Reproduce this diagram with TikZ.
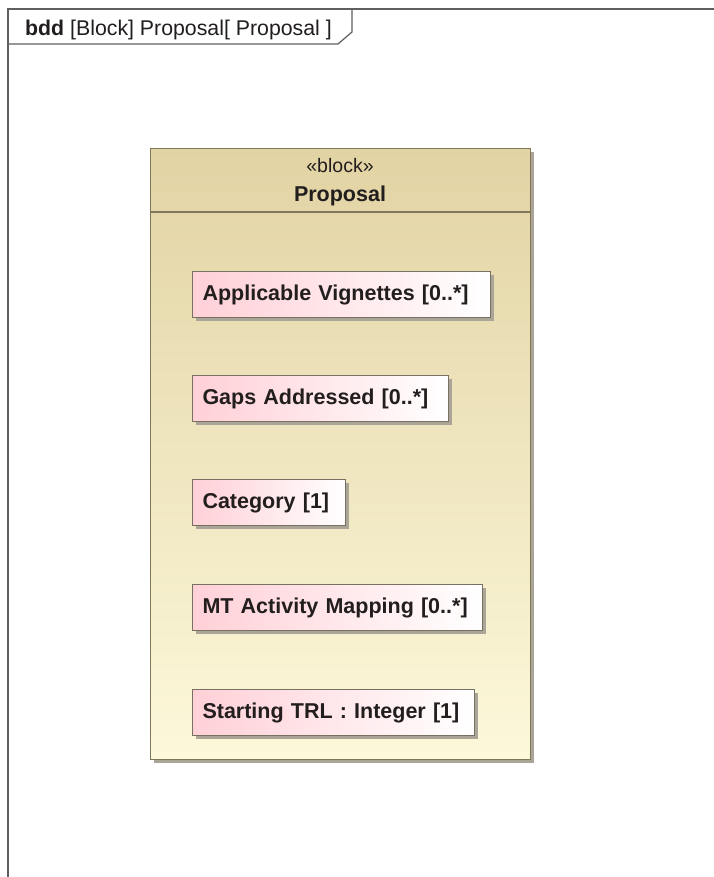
\documentclass[tikz,border=0pt]{standalone}
\usepackage{fontspec}
\setmainfont{Liberation Sans}
\begin{document}
\definecolor{frameGray}{RGB}{95,95,95}
\definecolor{textDark}{RGB}{34,30,30}
\definecolor{blockTop}{RGB}{226,211,164}
\definecolor{blockBottom}{RGB}{252,248,218}
\definecolor{blockBorder}{RGB}{128,118,88}
\definecolor{partPink}{RGB}{255,208,215}
\definecolor{partBorder}{RGB}{120,112,96}
\definecolor{shadowGray}{RGB}{170,165,150}
\begin{tikzpicture}[x=1pt,y=-1pt,
  frameline/.style={draw=frameGray, line width=1.6pt},
  blockbox/.style={draw=blockBorder, line width=1.2pt, top color=blockTop, bottom color=blockBottom,
    anchor=north west, inner sep=0pt},
  shadowbox/.style={fill=shadowGray, draw=none},
  partbox/.style={draw=partBorder, line width=1pt, left color=partPink, right color=white,
    anchor=north west, minimum height=46pt, inner xsep=10pt, inner ysep=0pt, align=left,
    text=textDark, font=\bfseries\fontsize{21.5}{24}\selectfont},
  labeltext/.style={text=textDark, inner sep=0pt}]
  \useasboundingbox (0,0) rectangle (713,877);
  \fill[white] (0,0) rectangle (713,877);

  % diagram frame with its name tab
  \draw[frameline] (8,880) -- (8,9) -- (716,9);
  \draw[frameline, line width=1.2pt] (8,44) -- (338,44) -- (352,32) -- (352,9);
  \node[labeltext, anchor=base west, font=\fontsize{21.3}{24}\selectfont] (title) at (25,36)
    {\textbf{bdd} [Block] Proposal[ Proposal ]};

  % block Proposal
  \fill[shadowbox] (154,152) rectangle (534,763);
  \node[blockbox, minimum width=380pt, minimum height=611pt] (block) at (150,148) {};
  \draw[draw=blockBorder, line width=1.2pt] (150,212) -- (530,212);
  \node[labeltext, anchor=base, font=\fontsize{19.5}{22}\selectfont] (stereo) at (340,173) {«block»};
  \node[labeltext, anchor=base, font=\bfseries\fontsize{21.5}{24}\selectfont] (bname) at (340,202) {Proposal};

  % part properties
  \foreach \y/\w in {271/298, 375/256, 479/153, 584/290, 689/282}
    \fill[shadowbox] (196,\y+4) rectangle (192+\w+4,\y+50);
  \node[partbox, text width=278pt] (p1) at (192,271) {Applicable Vignettes [0..*]};
  \node[partbox, text width=236pt] (p2) at (192,375) {Gaps Addressed [0..*]};
  \node[partbox, text width=133pt] (p3) at (192,479) {Category [1]};
  \node[partbox, text width=270pt] (p4) at (192,584) {MT Activity Mapping [0..*]};
  \node[partbox, text width=262pt] (p5) at (192,689) {Starting TRL : Integer [1]};
\end{tikzpicture}
\end{document}
